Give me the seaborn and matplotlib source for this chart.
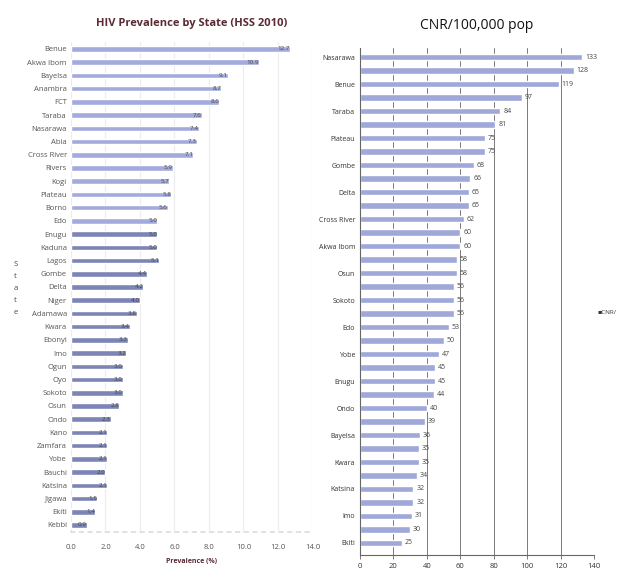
"""
Two side-by-side horizontal bar charts: HIV prevalence by state (HSS 2010)
and TB case notification rate per 100,000 population.
"""
import numpy as np
import pandas as pd
import matplotlib
matplotlib.use("Agg")
import matplotlib.pyplot as plt
import seaborn as sns

# left panel: HIV prevalence (%)
hiv_states = ["Benue", "Akwa Ibom", "Bayelsa", "Anambra", "FCT", "Taraba",
              "Nasarawa", "Abia", "Cross River", "Rivers", "Kogi", "Plateau",
              "Borno", "Edo", "Enugu", "Kaduna", "Lagos", "Gombe", "Delta",
              "Niger", "Adamawa", "Kwara", "Ebonyi", "Imo", "Ogun", "Oyo",
              "Sokoto", "Osun", "Ondo", "Kano", "Zamfara", "Yobe", "Bauchi",
              "Katsina", "Jigawa", "Ekiti", "Kebbi"]
hiv_prev = [12.7, 10.9, 9.1, 8.7, 8.6, 7.6, 7.4, 7.3, 7.1, 5.9, 5.7, 5.8,
            5.6, 5.0, 5.0, 5.0, 5.1, 4.4, 4.2, 4.0, 3.8, 3.4, 3.3, 3.2,
            3.0, 3.0, 3.0, 2.8, 2.3, 2.1, 2.1, 2.1, 2.0, 2.1, 1.5, 1.4, 0.9]
hiv_xticks = [0, 2, 4, 6, 8, 10, 12, 14]

# right panel: CNR / 100,000 pop
cnr_states = ["Nasarawa", "FCT", "Benue", "Kogi", "Taraba", "Niger", "Plateau",
              "Adamawa", "Gombe", "Abia", "Delta", "Rivers", "Cross River",
              "Kaduna", "Akwa Ibom", "Ebonyi", "Osun", "Ogun", "Sokoto",
              "Kebbi", "Edo", "Oyo", "Yobe", "Borno", "Enugu", "Lagos", "Ondo",
              "Anambra", "Bayelsa", "Bauchi", "Kwara", "Zamfara", "Katsina",
              "Jigawa", "Imo", "Kano", "Ekiti"]
cnr_vals = [133, 128, 119, 97, 84, 81, 75, 75, 68, 66, 65, 65, 62, 60, 60,
            58, 58, 56, 56, 56, 53, 50, 47, 45, 45, 44, 40, 39, 36, 35, 35,
            34, 32, 32, 31, 30, 25]
cnr_xticks = [0, 20, 40, 60, 80, 100, 120, 140]

sns.set_theme(style="white")
plt.rcParams['font.family'] = ['Open Sans', 'DejaVu Sans']

fig = plt.figure(figsize=(6.19, 5.78), dpi=100)

# ---- left chart ----
ax1 = fig.add_axes([0.1147, 0.0803, 0.390, 0.8464])
df_hiv = pd.DataFrame({"state": hiv_states, "prev": hiv_prev})
sns.barplot(data=df_hiv, x="prev", y="state", orient="h", ax=ax1,
            color="#a3abdc", width=0.42, saturation=1)
for i, p in enumerate(ax1.patches):
    p.set_facecolor("#a3abdc" if i < 14 else "#7d85b5")
for i, v in enumerate(hiv_prev):
    ax1.text(v, i, f"{v:.1f}", ha="right", va="center", fontsize=4.5,
             color="#444444")
ax1.set_xlim(0, 14)
ax1.set_ylim(len(hiv_states) - 0.5, -0.5)
ax1.set_xticks(hiv_xticks)
ax1.set_xticklabels([f"{t:.1f}" for t in hiv_xticks], fontsize=5.5, color="#555555")
ax1.tick_params(axis="y", labelsize=5.5, labelcolor="#555555", length=0, pad=3)
ax1.tick_params(axis="x", length=0, pad=9)
ax1.xaxis.grid(True, color="#ececec", linewidth=0.8)
ax1.set_axisbelow(True)
for s in ["top", "right", "left"]:
    ax1.spines[s].set_visible(False)
ax1.spines["bottom"].set_color("#dddddd")
ax1.spines["bottom"].set_linestyle((0, (2, 3)))
ax1.set_ylabel("")
ax1.set_xlabel("Prevalence (%)", fontsize=5, fontweight="bold", color="#5b2a35",
               labelpad=5)
ax1.set_title("HIV Prevalence by State (HSS 2010)", fontsize=8, fontweight="bold",
              color="#5b2a35", pad=12)
fig.text(0.025, 1 - 288 / 578, "S\nt\na\nt\ne", fontsize=5.5, color="#444444",
         ha="center", va="center", linespacing=2.0)

# ---- right chart ----
ax2 = fig.add_axes([0.5816, 0.0398, 0.378, 0.877])
df_cnr = pd.DataFrame({"state": cnr_states, "cnr": cnr_vals})
sns.barplot(data=df_cnr, x="cnr", y="state", orient="h", ax=ax2,
            color="#9fa8d9", width=0.5, saturation=1)
ax2.bar_label(ax2.containers[0], labels=[str(v) for v in cnr_vals], padding=2,
              fontsize=5, color="#444444")
ax2.set_xlim(0, 140)
ax2.set_ylim(len(cnr_states) - 1 + 0.89, -0.667)
ax2.set_xticks(cnr_xticks)
ax2.set_xticklabels([str(t) for t in cnr_xticks], fontsize=5.5, color="#333333")
ax2.set_yticks(np.arange(len(cnr_states)))
ax2.set_yticklabels([s if i % 2 == 0 else "" for i, s in enumerate(cnr_states)],
                    fontsize=5, color="#333333")
ax2.tick_params(axis="y", length=2.5, width=0.6, color="#666666", pad=1)
ax2.tick_params(axis="x", length=3, width=0.6, color="#666666", pad=3,
                bottom=True)
ax2.xaxis.grid(True, color="#7a7a7a", linewidth=0.7)
ax2.set_axisbelow(True)
for s in ["top", "right"]:
    ax2.spines[s].set_visible(False)
for s in ["left", "bottom"]:
    ax2.spines[s].set_color("#666666")
    ax2.spines[s].set_linewidth(0.8)
ax2.set_xlabel("")
ax2.set_ylabel("")
ax2.set_title("CNR/100,000 pop", fontsize=10, color="#111111", pad=14)
fig.text(0.966, 1 - 313 / 578, "\u25aaCNR/", fontsize=4.5, color="#333333",
         ha="left", va="center")

fig.savefig("out.png", dpi=100)
